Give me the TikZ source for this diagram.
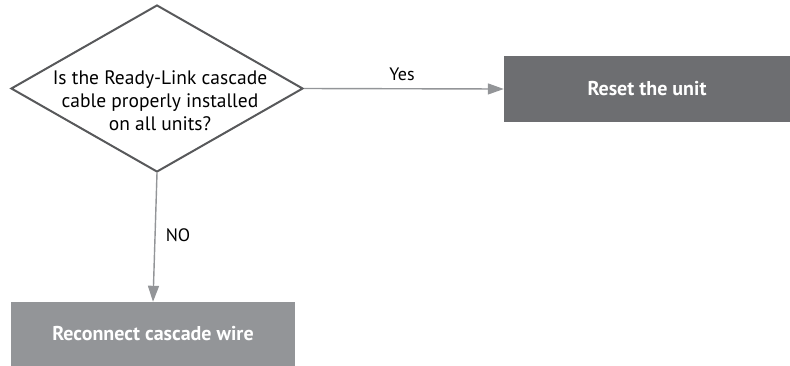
\documentclass[tikz,border=0pt]{standalone}
\usepackage{fontspec}
\setmainfont{PT Sans}
\usetikzlibrary{arrows.meta,shapes.geometric,positioning}

\definecolor{edgegray}{HTML}{58595B}
\definecolor{flowgray}{HTML}{939598}
\definecolor{darkbox}{HTML}{6D6E71}
\definecolor{lightbox}{HTML}{939598}

\begin{document}
\begin{tikzpicture}[
  x=1pt, y=-1pt,
  >={Triangle[length=16pt, width=11pt]},
  decision/.style={diamond, draw=edgegray, line width=2pt, fill=white,
    minimum width=292pt, minimum height=167pt, inner sep=0pt},
  qtext/.style={align=center, inner sep=0pt, font=\fontsize{19.5}{23}\selectfont},
  action/.style={rectangle, fill=#1, text=white, inner sep=0pt,
    font=\fontsize{20}{22}\selectfont\bfseries},
  flow/.style={->, draw=flowgray, fill=flowgray, line width=1.4pt},
  lab/.style={font=\fontsize{18}{20}\selectfont, inner sep=0pt},
]
\useasboundingbox (0,0) rectangle (790,365);

% ------------------------------------------------------------------
% decision and the two outcomes
% ------------------------------------------------------------------
\node[decision] (check) at (157,88.5) {};
\node[qtext] (question) at (160,101)
     {Is the Ready-Link cascade\\cable properly installed\\on all units?};

\node[action=darkbox, minimum width=286pt, minimum height=66pt] (reset)
     at (647,89) {Reset the unit};
\node[action=lightbox, minimum width=284pt, minimum height=64pt] (reconnect)
     at (153,334) {Reconnect cascade wire};

% connectors
\draw[flow] (check.east) -- (reset.west);
\draw[flow] (check.south) -- (reconnect.north);

% labels of the connectors
\node[lab] (yes) at (402,74) {Yes};
\node[lab] (no) at (178,235) {NO};
\end{tikzpicture}
\end{document}
